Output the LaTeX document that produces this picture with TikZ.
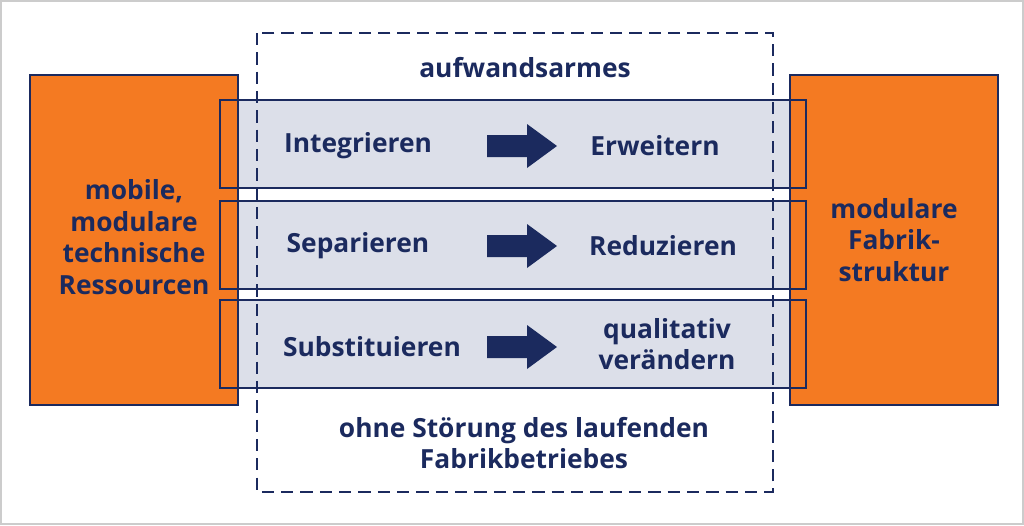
\documentclass[tikz,border=0pt]{standalone}
\usepackage{fontspec}
\setmainfont{Open Sans}
\definecolor{navy}{HTML}{1B2A5E}
\definecolor{orng}{HTML}{F47A22}
\definecolor{band}{HTML}{DCDFE9}
\begin{document}
\begin{tikzpicture}[x=0.02cm,y=-0.02cm,
    res/.style={draw=navy, line width=1.6pt, fill=orng},
    lbl/.style={text=navy, font=\fontsize{15}{18}\selectfont\bfseries, align=center}
]
    % Frame
    \draw[gray!40, line width=1pt] (1,1) rectangle (1023,524);
    \useasboundingbox (0,0) rectangle (1024,525);

    % Bands (fill)
    \foreach \t in {100,201,300}
        \fill[band] (220,\t) rectangle (806,\t+88);

    % Resources
    \draw[res] (30,75) rectangle (238,405);
    \draw[res] (790,75) rectangle (998,405);

    % Bands (border)
    \foreach \t in {100,201,300}
        \draw[navy, line width=1.6pt] (220,\t) rectangle (806,\t+88);

    % Dashed frame
    \draw[navy, line width=1.6pt, dash pattern=on 7pt off 4pt] (257,33) rectangle (773,492);

    % Texts
    \node[lbl] (mobile) at (134,237) {mobile,\\modulare\\technische\\Ressourcen};
    \node[lbl] (fabrik) at (894,240) {modulare\\Fabrik-\\struktur};
    \node[lbl] (top) at (525,68) {aufwandsarmes};
    \node[lbl] (bottom) at (524,443) {ohne Störung des laufenden\\Fabrikbetriebes};

    \node[lbl] (integ) at (358,146) {Integrieren};
    \node[lbl] (erw) at (655,146) {Erweitern};
    \node[lbl] (sep) at (358,246) {Separieren};
    \node[lbl] (red) at (663,246) {Reduzieren};
    \node[lbl] (subst) at (372,347) {Substituieren};
    \node[lbl] (qual) at (667,344) {qualitativ\\verändern};

    % Arrows
    \foreach \y in {146,246,347}
        \fill[navy] (487,\y-11) -- (527,\y-11) -- (527,\y-22) -- (557,\y)
            -- (527,\y+22) -- (527,\y+11) -- (487,\y+11) -- cycle;
\end{tikzpicture}
\end{document}
